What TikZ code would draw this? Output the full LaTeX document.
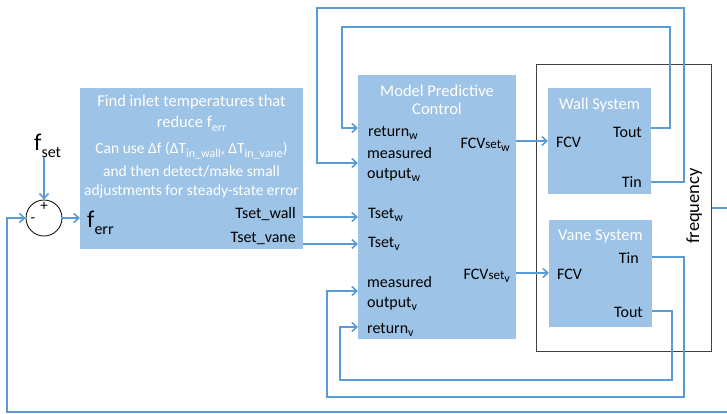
\documentclass[tikz,border=0pt]{standalone}
\usepackage{fontspec}
\setmainfont{Carlito}
\usetikzlibrary{arrows.meta}
\definecolor{boxfill}{HTML}{9DC3E6}
\definecolor{wirecol}{HTML}{5B9BD5}
\definecolor{framecol}{HTML}{404040}
\newcommand\fs[1]{\fontsize{#1}{#1}\selectfont}
% lowered small text: size, drop (pt), text
\newcommand\dn[3]{\raisebox{-#2pt}{\fs{#1}#3}}
\begin{document}
\begin{tikzpicture}[x=1pt,y=-1pt,
  block/.style={fill=boxfill, draw=none, inner sep=0pt, anchor=north west},
  wire/.style={draw=wirecol, line width=1.6pt, -{Straight Barb[length=5pt,width=9pt]}},
  lbl/.style={inner sep=0pt, font=\fs{16}, text=black},
  ttl/.style={inner sep=0pt, font=\fs{16.5}, text=white},
  note/.style={inner sep=0pt, font=\fs{15.5}, text=white}]
\useasboundingbox (0,0) rectangle (727,413);
\clip (0,0) rectangle (727,413);

% blocks
\node[block, minimum width=223pt, minimum height=161pt] (find) at (80,88) {};
\node[block, minimum width=158pt, minimum height=264pt] (mpc) at (358,75) {};
\node[draw=framecol, line width=0.8pt, minimum width=175pt, minimum height=287pt,
      anchor=north west, inner sep=0pt] (plant) at (536,64) {};
\node[block, minimum width=103pt, minimum height=106pt] (wall) at (548,88) {};
\node[block, minimum width=103pt, minimum height=107pt] (vane) at (549,220) {};
\node[circle, draw=black, fill=white, line width=0.8pt, minimum size=36pt, inner sep=0pt] (sum) at (44,218) {};
\node[inner sep=0pt, font=\fs{15}] (plus) at (44,206) {+};
\node[inner sep=0pt, font=\fs{15}] (minus) at (33,220) {-};

% reference set-point and error
\node[lbl, font=\fs{24}, anchor=base west] (fset) at (34,150) {f\dn{16}{7}{set}};
\node[lbl, font=\fs{24}, anchor=base west] (ferr) at (87,227) {f\dn{16}{7}{err}};

% inlet-temperature block text
\node[ttl, anchor=base] (find1) at (191.5,106) {Find inlet temperatures that};
\node[ttl, anchor=base] (find2) at (191.5,127) {reduce f\dn{12}{4}{err}};
\node[note, anchor=base] (find3) at (191.5,153) {Can use Δf (ΔT\dn{12}{4}{in\_wall}, ΔT\dn{12}{4}{in\_vane})};
\node[note, anchor=base] (find4) at (191.5,176) {and then detect/make small};
\node[note, anchor=base] (find5) at (191.5,195) {adjustments for steady-state error};
\node[lbl, anchor=base east] (tswall) at (296,218) {Tset\_wall};
\node[lbl, anchor=base east] (tsvane) at (296,242) {Tset\_vane};

% MPC text
\node[ttl, anchor=base] (mpc1) at (437,96) {Model Predictive};
\node[ttl, anchor=base] (mpc2) at (437,114) {Control};
\node[lbl, anchor=base west] (retw) at (368,136) {return\dn{12}{3}{w}};
\node[lbl, anchor=base west] (measw) at (367,158) {measured};
\node[lbl, anchor=base west] (outw) at (367,178) {output\dn{12}{3}{w}};
\node[lbl, anchor=base east] (fcvw) at (510,148) {FCV{\fs{13}set}\dn{12}{3}{w}};
\node[lbl, anchor=base west] (tsw) at (368,218) {Tset\dn{12}{3}{w}};
\node[lbl, anchor=base west] (tsv) at (368,247) {Tset\dn{12}{3}{v}};
\node[lbl, anchor=base east] (fcvv) at (510,279) {FCV{\fs{13}set}\dn{12}{3}{v}};
\node[lbl, anchor=base west] (measv) at (367,287) {measured};
\node[lbl, anchor=base west] (outv) at (367,307) {output\dn{12}{3}{v}};
\node[lbl, anchor=base west] (retv) at (367,333) {return\dn{12}{3}{v}};

% plant text
\node[ttl, anchor=base] (wallt) at (599.5,109) {Wall System};
\node[lbl, anchor=base west] (wfcv) at (556,147) {FCV};
\node[lbl, anchor=base east] (wtout) at (642,137) {Tout};
\node[lbl, anchor=base east] (wtin) at (642,187) {Tin};
\node[ttl, anchor=base] (vanet) at (600.5,240) {Vane System};
\node[lbl, anchor=base west] (vfcv) at (557,279) {FCV};
\node[lbl, anchor=base east] (vtin) at (639,263) {Tin};
\node[lbl, anchor=base east] (vtout) at (643,317) {Tout};
\node[lbl, font=\fs{18.5}, rotate=90, anchor=base] (freq) at (699,206) {frequency};

% signal rows
\coordinate (rTw) at (0,217);
\coordinate (rTv) at (0,244);
\coordinate (rFw) at (0,141);
\coordinate (rFv) at (0,273);
\coordinate (rWo) at (0,128);
\coordinate (rWi) at (0,182);
\coordinate (rMw) at (0,163);
\coordinate (rVi) at (0,257);
\coordinate (rMv) at (0,291);
\coordinate (rVo) at (0,311);
\coordinate (rRv) at (0,327);
\coordinate (rFq) at (0,208);

% connectors
\draw[wire] (fset.south -| sum.north) -- (sum.north);
\draw[wire] (sum.east) -- (find.west |- sum.east);
\draw[wire] (find.east |- rTw) -- (mpc.west |- rTw);
\draw[wire] (find.east |- rTv) -- (mpc.west |- rTv);
\draw[wire] (mpc.east |- rFw) -- (wall.west |- rFw);
\draw[wire] (mpc.east |- rFv) -- (vane.west |- rFv);
\draw[wire] (wall.east |- rWo) -| (670,27) -| (342,128) -- (mpc.west |- rWo);
\draw[wire] (wall.east |- rWi) -| (684,8) -| (317,163) -- (mpc.west |- rMw);
\draw[wire] (vane.east |- rVi) -| (684,397) -| (327,291) -- (mpc.west |- rMv);
\draw[wire] (vane.east |- rVo) -| (672,380) -| (340,327) -- (mpc.west |- rRv);
\draw[wire] (plant.east |- rFq) -| (740,412) -| (7,218) -- (sum.west);
\end{tikzpicture}
\end{document}
